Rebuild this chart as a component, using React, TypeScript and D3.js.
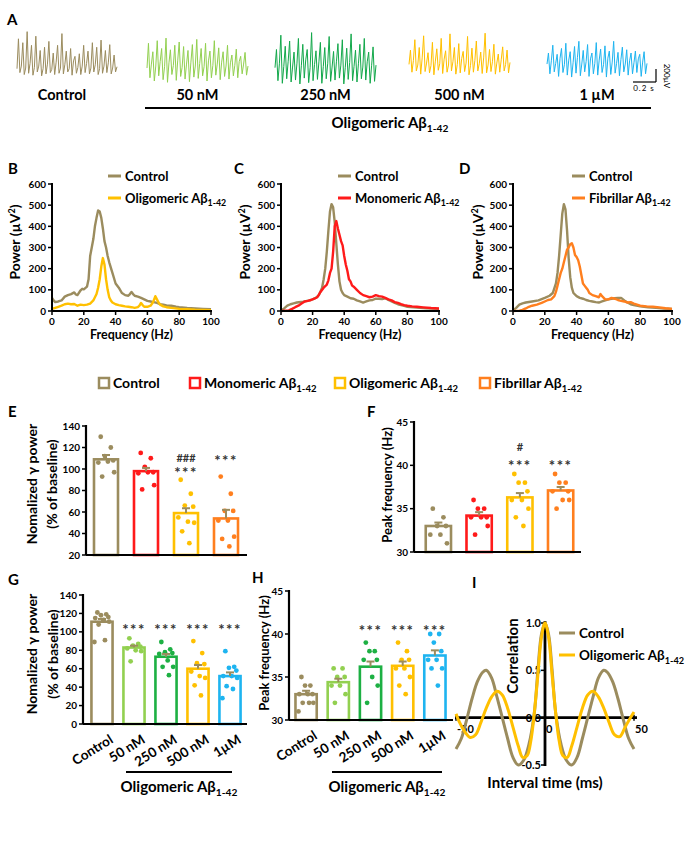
import React from 'react';
import * as d3 from 'd3';

const FONT = "Lato, 'Open Sans', 'DejaVu Sans', sans-serif";
const C_CTRL = '#9b8c5e';
const C_MONO = '#ff1a1a';
const C_OLIG = '#ffc000';
const C_FIB = '#ff7f1e';
const C_50 = '#92d050';
const C_250 = '#1db043';
const C_1U = '#1eb4f0';
const C_STAR = '#333333';

// ---------------- Panel A: raw traces (µV)
const traceLabels = ['Control', '50 nM', '250 nM', '500 nM', '1 µM'];
const traceControl = [20, 480, -40, 60, 420, -70, 30, 590, -50, 100, 380, -80, 40, 520, -30, 60, 300, -90, 20, 350, -60, 90, 440, -40, 10, 260, -70, 120, 380, -50, 30, 560, -60, 80, 290, -30, 20, 330, -80, 140, 210, -50, 40, 250, -70, 60, 380, -40, 100, 290, -60, 30, 420, -30, 80, 350, -70, 20, 460, -50, 60, 300, -40, 110, 390, -60, 30, 230, -30, 50];
const trace50 = [0, 380, -150, 60, 250, -200, 30, 420, -120, 100, 300, -180, 20, 460, -220, 80, 280, -100, 40, 350, -190, 120, 400, -130, 10, 330, -170, 60, 270, -210, 90, 360, -140, 30, 440, -160, 70, 300, -120, 20, 380, -200, 110, 260, -150, 40, 420, -110, 60, 310, -180, 90, 250, -130, 30, 350, -170, 80, 200, -120, 40, 290, -150, 100, 180, -90, 60, 240, -110, 30];
const trace250 = [20, 300, -180, 80, 520, -220, 40, 350, -150, 120, 430, -200, 30, 260, -170, 90, 470, -230, 50, 380, -140, 140, 300, -210, 20, 560, -180, 70, 280, -160, 110, 410, -220, 40, 330, -150, 80, 500, -190, 30, 270, -170, 120, 390, -140, 60, 450, -230, 20, 320, -160, 100, 540, -180, 40, 290, -200, 80, 380, -150, 30, 470, -170, 110, 260, -220, 50, 340, -190, 60];
const trace500 = [40, 260, -80, 100, 420, -60, 30, 300, -110, 140, 480, -70, 60, 220, -90, 20, 380, -120, 90, 280, -50, 50, 440, -100, 120, 250, -80, 30, 510, -60, 80, 300, -110, 40, 360, -90, 130, 240, -70, 60, 470, -120, 20, 290, -80, 100, 400, -60, 50, 230, -100, 140, 520, -90, 30, 270, -70, 80, 350, -110, 60, 200, -80, 110, 310, -60, 40, 260, -90, 70];
const trace1u = [30, 200, -120, 80, 320, -90, 40, 180, -160, 120, 270, -100, 20, 350, -140, 90, 220, -170, 50, 300, -110, 130, 380, -150, 30, 240, -90, 70, 330, -160, 110, 200, -120, 40, 360, -140, 90, 260, -100, 20, 310, -170, 120, 230, -130, 60, 380, -110, 40, 210, -150, 100, 290, -90, 30, 250, -140, 80, 200, -120, 50, 230, -100, 110, 180, -160, 60, 220, -120, 40];

// ---------------- Spectra [Hz, µV²]
const specB_ctrl = [[0,62],[1,50],[2,42],[4,45],[6,50],[8,68],[10,75],[12,80],[14,88],[15,78],[16,75],[18,98],[19,105],[20,102],[22,115],[23,150],[24,260],[25,300],[26,340],[27,400],[28,440],[29,475],[30,470],[31,440],[32,390],[33,330],[34,300],[35,260],[36,230],[38,180],[40,130],[42,110],[44,85],[46,75],[48,72],[49,80],[50,90],[51,80],[52,72],[54,68],[56,62],[58,55],[60,48],[62,45],[64,42],[66,38],[68,32],[70,30],[72,26],[75,25],[78,20],[80,18],[85,14],[90,12],[95,10],[100,8]];
const specB_olig = [[0,10],[2,15],[4,20],[6,25],[8,32],[10,35],[12,32],[14,33],[16,25],[18,30],[20,28],[22,30],[24,35],[26,50],[28,80],[29,110],[30,150],[31,210],[32,250],[33,220],[34,150],[35,100],[36,65],[37,50],[38,40],[40,32],[42,28],[44,25],[46,22],[48,20],[50,18],[52,15],[54,18],[55,25],[56,38],[57,28],[58,20],[60,20],[62,25],[63,35],[64,50],[65,70],[66,55],[67,40],[68,30],[70,22],[72,18],[75,15],[80,10],[85,8],[90,6],[95,5],[100,4]];
const specC_ctrl = [[0,2],[2,12],[4,25],[6,32],[8,36],[10,40],[14,44],[18,50],[20,55],[22,62],[24,75],[26,110],[27,150],[28,200],[29,280],[30,380],[31,470],[32,505],[33,490],[34,420],[35,320],[36,220],[37,140],[38,100],[39,85],[40,75],[42,68],[44,60],[46,58],[48,50],[50,45],[52,40],[54,45],[56,50],[58,52],[60,58],[62,58],[64,56],[66,60],[68,52],[70,45],[72,38],[74,32],[76,28],[78,24],[80,20],[84,17],[88,15],[92,13],[96,11],[100,10]];
const specC_mono = [[0,0],[3,2],[5,3],[7,10],[9,18],[11,25],[13,35],[15,45],[17,48],[19,52],[21,58],[23,65],[25,90],[27,110],[29,125],[30,145],[31,180],[32,200],[33,280],[34,400],[35,425],[36,390],[37,360],[38,330],[39,310],[40,260],[41,220],[42,190],[43,150],[44,140],[45,120],[46,115],[48,100],[50,85],[52,75],[54,70],[56,65],[58,68],[60,75],[62,70],[64,68],[66,62],[68,55],[70,50],[72,42],[74,38],[76,32],[78,28],[80,25],[83,22],[86,20],[90,17],[95,14],[100,12]];
const specD_ctrl = [[0,3],[2,15],[4,30],[6,36],[8,40],[12,45],[16,50],[20,62],[23,72],[25,85],[27,130],[28,180],[29,260],[30,360],[31,460],[32,505],[33,480],[34,380],[35,250],[36,160],[37,110],[38,85],[40,70],[42,62],[44,58],[46,52],[48,48],[50,45],[52,42],[54,40],[56,45],[58,50],[60,55],[62,58],[64,60],[66,62],[68,62],[70,50],[72,40],[74,32],[76,28],[80,22],[85,18],[90,15],[95,12],[100,10]];
const specD_fib = [[0,0],[4,2],[6,5],[8,12],[10,20],[12,25],[15,30],[18,38],[20,45],[22,52],[24,55],[26,70],[27,90],[28,120],[29,150],[30,180],[31,200],[32,230],[33,260],[34,290],[35,300],[36,315],[37,320],[38,300],[39,265],[40,255],[41,240],[42,210],[43,170],[44,130],[45,120],[46,110],[47,100],[48,85],[50,75],[52,70],[54,65],[55,80],[56,70],[58,55],[60,55],[62,62],[64,58],[66,52],[68,48],[70,45],[72,40],[74,42],[76,35],[78,30],[80,25],[84,22],[88,20],[92,17],[96,13],[100,10]];
const specXTicks = [0, 20, 40, 60, 80, 100];
const specYTicks = [0, 100, 200, 300, 400, 500, 600];

// ---------------- Bar panels
const formCats = ['Control', 'Monomeric', 'Oligomeric', 'Fibrillar'];
const gammaMeansE = [109, 98, 59, 54];
const gammaErrE = [4, 3, 4.5, 8];
const gammaDotsE = [
  [130, 120, 112, 108, 106, 107, 97, 93],
  [115, 110, 102, 97, 96, 97, 85, 81],
  [90, 77, 66, 65, 55, 51, 50, 42, 31],
  [93, 77, 61, 61, 52, 52, 37, 35, 28],
];
const peakMeansF = [33, 34.2, 36.3, 37.1];
const peakErrF = [0.4, 0.4, 0.5, 0.4];
const peakDotsF = [
  [35, 34, 33, 33, 32, 32, 31],
  [36, 35, 35, 34, 34, 34, 33, 32],
  [39, 38, 38, 37, 36, 36, 35, 34, 33],
  [39, 38, 38, 37, 37, 36, 36, 35],
];
const doseCats = ['Control', '50 nM', '250 nM', '500 nM', '1µM'];
const gammaMeansG = [111, 83, 73, 60, 52];
const gammaErrG = [3, 2, 3, 4, 4];
const gammaDotsG = [
  [121, 119, 118, 116, 115, 113, 111, 108, 91, 89],
  [93, 87, 85, 84, 82, 80, 79, 68],
  [89, 81, 78, 77, 76, 69, 62, 62, 53],
  [90, 77, 66, 65, 57, 52, 50, 42, 31],
  [79, 62, 61, 58, 52, 52, 50, 41, 38, 28],
];
const peakMeansH = [33, 34.4, 36.2, 36.3, 37.5];
const peakErrH = [0.4, 0.4, 0.6, 0.5, 0.6];
const peakDotsH = [
  [35, 34, 34, 33, 33, 33, 32, 32, 32, 31],
  [36, 36, 35, 35, 34, 34, 33, 32],
  [39, 38, 38, 37, 37, 35, 34, 32],
  [39, 38, 37, 37, 36, 36, 35, 34, 33],
  [40, 40, 39, 38, 37, 37, 36, 36, 34],
];
const starsE = [{ i: 2, t: '###', v: 110.5 }, { i: 2, t: '***', v: 99 }, { i: 3, t: '***', v: 110 }];
const starsF = [{ i: 2, t: '#', v: 42.1 }, { i: 2, t: '***', v: 40.3 }, { i: 3, t: '***', v: 40.3 }];
const starsG = [{ i: 1, t: '***', v: 105 }, { i: 2, t: '***', v: 105 }, { i: 3, t: '***', v: 105 }, { i: 4, t: '***', v: 105 }];
const starsH = [{ i: 2, t: '***', v: 40.7 }, { i: 3, t: '***', v: 40.7 }, { i: 4, t: '***', v: 40.7 }];

// ---------------- Panel I: autocorrelation [ms, r]
const corrCtrl = [[-50,-0.33],[-47,-0.22],[-44,-0.02],[-41,0.2],[-38,0.38],[-35,0.48],[-33,0.5],[-30,0.42],[-27,0.22],[-24,0.0],[-21,-0.22],[-18,-0.42],[-15,-0.5],[-12,-0.45],[-9,-0.28],[-6,0.05],[-4,0.5],[-2,0.88],[0,1.0],[2,0.88],[4,0.5],[6,0.05],[9,-0.28],[12,-0.45],[15,-0.5],[18,-0.42],[21,-0.22],[24,0.0],[27,0.22],[30,0.42],[33,0.5],[35,0.48],[38,0.38],[41,0.2],[44,-0.02],[47,-0.22],[50,-0.33]];
const corrOlig = [[-50,0.04],[-48,-0.05],[-45,-0.15],[-42,-0.21],[-39,-0.18],[-36,-0.05],[-33,0.1],[-30,0.22],[-27,0.28],[-24,0.24],[-21,0.1],[-18,-0.1],[-15,-0.3],[-12.5,-0.42],[-10,-0.4],[-8,-0.25],[-6,0.05],[-4,0.45],[-2,0.85],[0,1.0],[2,0.85],[4,0.45],[6,0.05],[8,-0.25],[10,-0.4],[12.5,-0.42],[15,-0.3],[18,-0.1],[21,0.1],[24,0.24],[27,0.28],[30,0.22],[33,0.1],[36,-0.05],[39,-0.18],[42,-0.2],[45,-0.1],[48,0.0],[50,0.06]];
const corrXTicks = [-50, 0, 50];
const corrYTicks = [1.0, 0.5, 0.0, -0.5];

const JIT = [-0.22, 0.2, -0.05, 0.3, -0.32, 0.08, 0.34, -0.16, 0.14, -0.36];

function Abeta({ prefix, fs }: { prefix: string; fs: number }) {
  return (
    <>
      {prefix} Aβ<tspan dy={fs * 0.28} fontSize={fs * 0.68}>1-42</tspan>
    </>
  );
}

function PanelA() {
  const traces = [
    { d: traceControl, c: C_CTRL, x0: 17, x1: 117, base: 70 },
    { d: trace50, c: C_50, x0: 147, x1: 248, base: 68 },
    { d: trace250, c: '#12a84a', x0: 275, x1: 376, base: 69 },
    { d: trace500, c: C_OLIG, x0: 409, x1: 510, base: 67 },
    { d: trace1u, c: C_1U, x0: 547, x1: 647, base: 66 },
  ];
  const k = 0.065;
  return (
    <g>
      <text x={7} y={25} fontSize={15}>A</text>
      {traces.map((t, i) => {
        const x = d3.scaleLinear().domain([0, t.d.length - 1]).range([t.x0, t.x1]);
        const y = d3.scaleLinear().domain([0, 200]).range([t.base, t.base - 200 * k]);
        const line = d3.line<number>().x((_, j) => x(j)).y((v) => y(v));
        return (
          <g key={i}>
            <path d={line(t.d) || ''} fill="none" stroke={t.c} strokeWidth={1} />
            <text x={(t.x0 + t.x1) / 2 + (i === 0 ? -5 : 0)} y={100} textAnchor="middle" fontSize={14.5}>{traceLabels[i]}</text>
          </g>
        );
      })}
      {/* scale bar */}
      <line x1={633} x2={656} y1={82} y2={82} stroke="#000" strokeWidth={1.2} />
      <line x1={656} x2={656} y1={69} y2={82} stroke="#000" strokeWidth={1.2} />
      <text x={644} y={91} fontSize={8} fontWeight="normal" textAnchor="middle" letterSpacing={1}>0.2 s</text>
      <text transform="translate(664,76) rotate(90)" fontSize={8} fontWeight="normal" textAnchor="middle">200µV</text>
      <line x1={145} x2={651} y1={108} y2={108} stroke="#000" strokeWidth={2} />
      <text x={390} y={128} textAnchor="middle" fontSize={15}><Abeta prefix="Oligomeric" fs={15} /></text>
    </g>
  );
}

function Spectrum({ left, right, series, legend, letter, letterX, titleX }: any) {
  const top = 184, bottom = 311;
  const x = d3.scaleLinear().domain([0, 100]).range([left, right]);
  const y = d3.scaleLinear().domain([0, 600]).range([bottom, top]);
  const line = d3.line<number[]>().x((d) => x(d[0])).y((d) => y(d[1]));
  return (
    <g>
      <text x={letterX} y={174} fontSize={15}>{letter}</text>
      {series.map((s: any, i: number) => (
        <path key={i} d={line(s.d) || ''} fill="none" stroke={s.c} strokeWidth={2.4} strokeLinejoin="round" />
      ))}
      <line x1={left} x2={left} y1={top - 1} y2={bottom} stroke="#000" strokeWidth={2} />
      <line x1={left} x2={right + 1} y1={bottom} y2={bottom} stroke="#000" strokeWidth={2} />
      {specYTicks.map((t) => (
        <g key={t}>
          <line x1={left - 4} x2={left} y1={y(t)} y2={y(t)} stroke="#000" strokeWidth={1.5} />
          <text x={left - 6} y={y(t)} dy="0.35em" textAnchor="end" fontSize={10}>{t}</text>
        </g>
      ))}
      {specXTicks.map((t) => (
        <g key={t}>
          <line x1={x(t)} x2={x(t)} y1={bottom} y2={bottom + 4} stroke="#000" strokeWidth={1.5} />
          <text x={x(t)} y={bottom + 14} textAnchor="middle" fontSize={10}>{t}</text>
        </g>
      ))}
      <text x={(left + right) / 2} y={339} textAnchor="middle" fontSize={12.5}>Frequency (Hz)</text>
      <text transform={`translate(${titleX},242) rotate(-90)`} textAnchor="middle" fontSize={14}>
        Power (µV<tspan dy={-5} fontSize={9}>2</tspan><tspan dy={5}>)</tspan>
      </text>
      {legend.map((l: any, i: number) => (
        <g key={i}>
          <line x1={l.x} x2={l.x + 13} y1={176 + i * 22} y2={176 + i * 22} stroke={l.c} strokeWidth={3} />
          <text x={l.x + 17} y={176 + i * 22} dy="0.35em" fontSize={13}>
            {l.sub ? <Abeta prefix={l.t} fs={13} /> : l.t}
          </text>
        </g>
      ))}
    </g>
  );
}

function BarPanel(p: any) {
  const y = d3.scaleLinear().domain(p.domain).range([p.bottom, p.top]);
  const x = d3.scaleBand<string>().domain(p.cats).range([p.bandL, p.bandR]).paddingInner(p.pad).paddingOuter(p.pad / 2);
  const bw = x.bandwidth();
  const base = y(p.domain[0]);
  return (
    <g>
      <text x={p.letterX} y={p.letterY} fontSize={15}>{p.letter}</text>
      {p.cats.map((c: string, i: number) => {
        const x0 = x(c) as number;
        const cx = x0 + bw / 2;
        const m = p.means[i];
        const e = p.errs[i];
        return (
          <g key={c}>
            <rect x={x0} y={y(m)} width={bw} height={base - y(m)} fill="#fff" stroke={p.colors[i]} strokeWidth={2.6} />
            {p.dots[i].map((v: number, j: number) => (
              <circle key={j} cx={cx + JIT[j % JIT.length] * bw} cy={y(v)} r={2.4} fill={p.colors[i]} />
            ))}
            <line x1={cx} x2={cx} y1={y(m)} y2={y(m + e)} stroke={C_CTRL} strokeWidth={2} />
            <line x1={cx - 4} x2={cx + 4} y1={y(m + e)} y2={y(m + e)} stroke={C_CTRL} strokeWidth={2} />
            {p.rotLabels && (
              <text transform={`translate(${cx + 12},${p.bottom + 18}) rotate(-32)`} textAnchor="end" fontSize={13.5}>{c}</text>
            )}
          </g>
        );
      })}
      {p.stars.map((s: any, k: number) => {
        const cx = (x(p.cats[s.i]) as number) + bw / 2;
        const isHash = s.t.startsWith('#');
        return (
          <text key={k} x={cx} y={y(s.v) + (isHash ? 4 : 8)} textAnchor="middle" fontSize={isHash ? 11 : 15} fill={C_STAR} letterSpacing={isHash ? 0 : 1.5}>{s.t}</text>
        );
      })}
      <line x1={p.left} x2={p.left} y1={p.top - 1} y2={p.bottom} stroke="#000" strokeWidth={2.2} />
      <line x1={p.left} x2={p.right} y1={p.bottom} y2={p.bottom} stroke="#000" strokeWidth={2.2} />
      {p.ticks.map((t: number) => (
        <g key={t}>
          <line x1={p.left - 4} x2={p.left} y1={y(t)} y2={y(t)} stroke="#000" strokeWidth={1.5} />
          <text x={p.left - 6} y={y(t)} dy="0.35em" textAnchor="end" fontSize={10}>{t}</text>
        </g>
      ))}
      {p.titles.map((t: any, k: number) => (
        <text key={k} transform={`translate(${t.x},${p.titleY}) rotate(-90)`} textAnchor="middle" fontSize={t.fs}>{t.t}</text>
      ))}
      {p.under && (
        <g>
          <line x1={p.under.x1} x2={p.under.x2} y1={772} y2={772} stroke="#000" strokeWidth={2} />
          <text x={(p.under.x1 + p.under.x2) / 2} y={792} textAnchor="middle" fontSize={15}><Abeta prefix="Oligomeric" fs={15} /></text>
        </g>
      )}
    </g>
  );
}

function GroupLegend() {
  const items = [
    { t: 'Control', c: C_CTRL, x: 99, sub: false },
    { t: 'Monomeric', c: C_MONO, x: 190, sub: true },
    { t: 'Oligomeric', c: C_OLIG, x: 335, sub: true },
    { t: 'Fibrillar', c: C_FIB, x: 480, sub: true },
  ];
  return (
    <g>
      {items.map((it) => (
        <g key={it.t}>
          <rect x={it.x} y={378} width={10} height={10} fill="#fff" stroke={it.c} strokeWidth={2.5} />
          <text x={it.x + 14} y={388} fontSize={14}>{it.sub ? <Abeta prefix={it.t} fs={14} /> : it.t}</text>
        </g>
      ))}
    </g>
  );
}

function PanelI() {
  const x = d3.scaleLinear().domain([-50, 50]).range([456, 634]);
  const y = d3.scaleLinear().domain([-0.5, 1]).range([765, 623]);
  const line = d3.line<number[]>().x((d) => x(d[0])).y((d) => y(d[1])).curve(d3.curveCatmullRom);
  return (
    <g>
      <text x={472} y={588} fontSize={15}>I</text>
      <line x1={455} x2={637} y1={y(0)} y2={y(0)} stroke="#000" strokeWidth={2.6} />
      <line x1={x(0)} x2={x(0)} y1={y(1) - 2} y2={y(-0.5) + 1} stroke="#000" strokeWidth={2.8} />
      {corrXTicks.map((t) => (
        <g key={t}>
          <line x1={x(t)} x2={x(t)} y1={y(0) - 3} y2={y(0) + 3} stroke="#000" strokeWidth={1.5} />
          <text x={x(t) + 1} y={y(0) + 15} fontSize={11}>{t}</text>
        </g>
      ))}
      {corrYTicks.map((t) => (
        <g key={t}>
          <line x1={x(0) - 4} x2={x(0)} y1={y(t)} y2={y(t)} stroke="#000" strokeWidth={1.5} />
          <text x={x(0) - 4} y={y(t)} dy="0.35em" textAnchor="end" fontSize={11}>{t.toFixed(1)}</text>
        </g>
      ))}
      <path d={line(corrCtrl) || ''} fill="none" stroke={C_CTRL} strokeWidth={3} />
      <path d={line(corrOlig) || ''} fill="none" stroke={C_OLIG} strokeWidth={3} />
      <text transform="translate(518,656) rotate(-90)" textAnchor="middle" fontSize={15}>Correlation</text>
      <text x={545} y={788} textAnchor="middle" fontSize={15}>Interval time (ms)</text>
      <line x1={559} x2={575} y1={633} y2={633} stroke={C_CTRL} strokeWidth={3} />
      <text x={579} y={633} dy="0.35em" fontSize={13.5}>Control</text>
      <line x1={559} x2={575} y1={655} y2={655} stroke={C_OLIG} strokeWidth={3} />
      <text x={579} y={655} dy="0.35em" fontSize={13.5}><Abeta prefix="Oligomeric" fs={13.5} /></text>
    </g>
  );
}

export default function App() {
  const formColors = [C_CTRL, C_MONO, C_OLIG, C_FIB];
  const doseColors = [C_CTRL, C_50, C_250, C_OLIG, C_1U];
  return (
    <svg width={692} height={862} style={{ position: 'absolute', left: 0, top: 0, background: '#fff' }} fontFamily={FONT} fontWeight="bold">
      <rect width={692} height={862} fill="#fff" />
      <PanelA />
      <Spectrum left={52} right={211} letter="B" letterX={8} titleX={20}
        series={[{ d: specB_ctrl, c: C_CTRL }, { d: specB_olig, c: C_OLIG }]}
        legend={[{ t: 'Control', c: C_CTRL, x: 108 }, { t: 'Oligomeric', c: C_OLIG, x: 108, sub: true }]} />
      <Spectrum left={281} right={439} letter="C" letterX={234} titleX={250}
        series={[{ d: specC_ctrl, c: C_CTRL }, { d: specC_mono, c: C_MONO }]}
        legend={[{ t: 'Control', c: C_CTRL, x: 338 }, { t: 'Monomeric', c: C_MONO, x: 338, sub: true }]} />
      <Spectrum left={513} right={672} letter="D" letterX={459} titleX={483}
        series={[{ d: specD_ctrl, c: C_CTRL }, { d: specD_fib, c: C_FIB }]}
        legend={[{ t: 'Control', c: C_CTRL, x: 572 }, { t: 'Fibrillar', c: C_FIB, x: 572, sub: true }]} />
      <GroupLegend />
      <BarPanel letter="E" letterX={8} letterY={417} cats={formCats} colors={formColors}
        means={gammaMeansE} errs={gammaErrE} dots={gammaDotsE} domain={[20, 140]} ticks={[20, 40, 60, 80, 100, 120, 140]}
        left={86} right={247} top={426} bottom={555} bandL={86} bandR={246} pad={0.4} stars={starsE}
        titleY={484} titles={[{ t: 'Nomalized γ power', x: 37, fs: 14 }, { t: '(% of baseline)', x: 57, fs: 14 }]} />
      <BarPanel letter="F" letterX={367} letterY={417} cats={formCats} colors={formColors}
        means={peakMeansF} errs={peakErrF} dots={peakDotsF} domain={[30, 45]} ticks={[30, 35, 40, 45]}
        left={414} right={581} top={422} bottom={552} bandL={418} bandR={581} pad={0.38} stars={starsF}
        titleY={485} titles={[{ t: 'Peak frequency (Hz)', x: 392, fs: 13 }]} />
      <BarPanel letter="G" letterX={8} letterY={585} cats={doseCats} colors={doseColors}
        means={gammaMeansG} errs={gammaErrG} dots={gammaDotsG} domain={[0, 140]} ticks={[0, 20, 40, 60, 80, 100, 120, 140]}
        left={83} right={247} top={595} bottom={724} bandL={86} bandR={246} pad={0.34} stars={starsG} rotLabels
        titleY={654} titles={[{ t: 'Nomalized γ power', x: 37, fs: 14 }, { t: '(% of baseline)', x: 58, fs: 14 }]}
        under={{ x1: 126, x2: 232 }} />
      <BarPanel letter="H" letterX={252} letterY={583} cats={doseCats} colors={doseColors}
        means={peakMeansH} errs={peakErrH} dots={peakDotsH} domain={[30, 45]} ticks={[30, 35, 40, 45]}
        left={289} right={453} top={591} bottom={720} bandL={290} bandR={451} pad={0.34} stars={starsH} rotLabels
        titleY={653} titles={[{ t: 'Peak frequency (Hz)', x: 269, fs: 13 }]}
        under={{ x1: 332, x2: 442 }} />
      <PanelI />
    </svg>
  );
}
